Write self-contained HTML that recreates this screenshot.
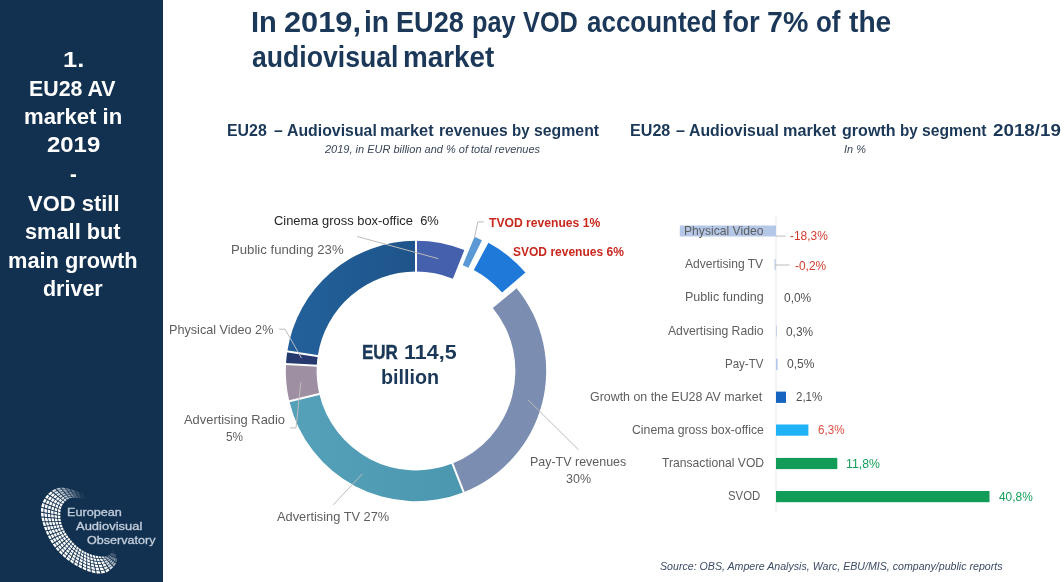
<!DOCTYPE html><html><head><meta charset="utf-8"><title>EU28 AV market in 2019</title><style>
html,body{margin:0;padding:0;background:#fff}
body{width:1064px;height:582px;position:relative;overflow:hidden;font-family:"Liberation Sans",sans-serif}
.sb{position:absolute;left:0;top:0;width:162.5px;height:582px;background:#12304f}
.t{position:absolute;white-space:pre;line-height:1;transform-origin:0 0;filter:blur(0.3px)}
svg{position:absolute;left:0;top:0}
</style></head><body>
<div class="sb"></div>
<svg width="1064" height="582" viewBox="0 0 1064 582">
<defs><linearGradient id="gp" gradientUnits="userSpaceOnUse" x1="286" y1="0" x2="416" y2="0"><stop offset="0" stop-color="#23619c"/><stop offset="1" stop-color="#1e548a"/></linearGradient><linearGradient id="gt" gradientUnits="userSpaceOnUse" x1="290" y1="0" x2="465" y2="0"><stop offset="0" stop-color="#54a1b9"/><stop offset="1" stop-color="#4b97b0"/></linearGradient></defs>
<rect x="775.5" y="215" width="1" height="297" fill="#e4e7ee"/>
<rect x="679.8" y="225.5" width="96.2" height="11" fill="#b4c7e7"/>
<polyline points="776,236.1 785.7,236.1" stroke="#bcbcbc" stroke-width="1" fill="none"/>
<rect x="774.4" y="259" width="1.6" height="11" fill="#c9d3e6"/>
<polyline points="775,265 789.5,265" stroke="#bcbcbc" stroke-width="1" fill="none"/>
<rect x="776" y="325.5" width="1" height="11" fill="#c9d3e6"/>
<rect x="776" y="358.7" width="1.6" height="11.3" fill="#b4c7e7"/>
<rect x="776" y="391.6" width="10" height="11.3" fill="#1464c0"/>
<rect x="776" y="424.5" width="32.4" height="11.2" fill="#1fb2f7"/>
<rect x="776" y="457.9" width="61.3" height="11.2" fill="#119c57"/>
<rect x="776" y="491" width="213.5" height="11.2" fill="#119c57"/>
<path d="M416.00,240.80A130.2,130.2 0 0 1 464.35,250.11L452.91,278.71A99.4,99.4 0 0 0 416.00,271.60Z" fill="#4561ae" />
<path d="M474.54,236.80A130.2,130.2 0 0 1 481.98,240.18L468.39,267.81A99.4,99.4 0 0 0 462.70,265.23Z" fill="#5b99d4" />
<path d="M488.43,242.76A130.2,130.2 0 0 1 525.41,272.50L502.06,292.58A99.4,99.4 0 0 0 473.82,269.88Z" fill="#1f79d9" />
<path d="M516.61,288.36A130.2,130.2 0 0 1 463.72,492.14L452.43,463.48A99.4,99.4 0 0 0 492.81,307.91Z" fill="#7c8db2" />
<path d="M463.72,492.14A130.2,130.2 0 0 1 289.34,401.17L319.31,394.04A99.4,99.4 0 0 0 452.43,463.48Z" fill="url(#gt)" />
<path d="M289.34,401.17A130.2,130.2 0 0 1 285.99,363.96L316.75,365.62A99.4,99.4 0 0 0 319.31,394.04Z" fill="#9e8fa3" />
<path d="M285.99,363.96A130.2,130.2 0 0 1 287.28,351.42L317.73,356.05A99.4,99.4 0 0 0 316.75,365.62Z" fill="#25396f" />
<path d="M287.28,351.42A130.2,130.2 0 0 1 416.00,240.80L416.00,271.60A99.4,99.4 0 0 0 317.73,356.05Z" fill="url(#gp)" />
<line x1="416.00" y1="272.60" x2="416.00" y2="239.80" stroke="#fff" stroke-width="2"/>
<line x1="452.06" y1="462.55" x2="464.08" y2="493.07" stroke="#fff" stroke-width="2"/>
<line x1="320.28" y1="393.80" x2="288.37" y2="401.41" stroke="#fff" stroke-width="2"/>
<line x1="317.74" y1="365.68" x2="284.99" y2="363.90" stroke="#fff" stroke-width="2"/>
<line x1="318.72" y1="356.20" x2="286.29" y2="351.27" stroke="#fff" stroke-width="2"/>
<polyline points="357.2,236.5 438.4,258.7" fill="none" stroke="#bcbcbc" stroke-width="1"/>
<polyline points="483.7,221.9 477.8,221.9 474.4,238" fill="none" stroke="#bcbcbc" stroke-width="1"/>
<polyline points="279.1,329.2 285.1,329.2 301.5,358.1" fill="none" stroke="#bcbcbc" stroke-width="1"/>
<polyline points="289.9,427.9 296,427.9 300.8,382.2" fill="none" stroke="#bcbcbc" stroke-width="1"/>
<polyline points="333.3,504.8 362.4,473.8" fill="none" stroke="#bcbcbc" stroke-width="1"/>
<polyline points="578.4,449.7 527.8,399.6" fill="none" stroke="#bcbcbc" stroke-width="1"/>
<path d="M83.4,493.5L79.9,492.3L80.1,493.1L83.5,494.2ZM83.5,494.4L80.2,493.4L80.5,494.3L83.6,495.2ZM83.6,495.4L80.5,494.5L80.8,495.4L83.7,496.2ZM83.7,496.4L80.8,495.7L81.1,496.5L83.8,497.2ZM83.8,497.4L81.2,496.8L81.4,497.6L83.9,498.2ZM83.9,498.4L81.5,497.9L81.7,498.8L83.9,499.1Z" fill="#ffffff" fill-opacity="0.07"/>
<path d="M114.7,552.9L113.2,549.6L113.0,549.7L114.3,552.9ZM114.1,552.8L113.0,549.7L112.9,549.8L113.7,552.8ZM113.5,552.7L112.8,549.8L112.7,549.9L113.1,552.7ZM112.9,552.6L112.6,549.9L112.5,550.0L112.5,552.6ZM112.3,552.5L112.5,550.1L112.3,550.2L111.9,552.5ZM111.7,552.4L112.3,550.2L112.1,550.3L111.3,552.4Z" fill="#ffffff" fill-opacity="0.09"/>
<path d="M78.8,491.9L75.3,490.7L75.7,491.7L79.1,492.8ZM79.2,493.1L75.9,492.0L76.3,493.0L79.5,494.0ZM79.6,494.2L76.5,493.3L76.9,494.3L79.9,495.1ZM79.9,495.4L77.1,494.6L77.6,495.6L80.2,496.3ZM80.3,496.6L77.7,495.9L78.2,496.9L80.6,497.5ZM80.7,497.8L78.3,497.2L78.8,498.2L81.0,498.6Z" fill="#ffffff" fill-opacity="0.2"/>
<path d="M116.4,557.5L115.2,554.0L114.6,553.9L115.6,557.1ZM115.3,557.0L114.5,553.8L113.9,553.7L114.4,556.7ZM114.1,556.6L113.7,553.7L113.2,553.5L113.2,556.2ZM113.0,556.1L113.0,553.5L112.4,553.3L112.1,555.8ZM111.8,555.7L112.3,553.3L111.7,553.2L110.9,555.3ZM110.6,555.2L111.5,553.1L111.0,553.0L109.8,554.9Z" fill="#ffffff" fill-opacity="0.28"/>
<path d="M74.2,490.3L70.6,489.3L71.3,490.4L74.7,491.4ZM74.8,491.7L71.5,490.8L72.2,491.9L75.4,492.7ZM75.5,493.0L72.4,492.2L73.1,493.4L76.0,494.1ZM76.2,494.4L73.3,493.7L74.0,494.9L76.7,495.4ZM76.9,495.8L74.2,495.2L74.9,496.4L77.4,496.8ZM77.5,497.1L75.1,496.7L75.8,497.8L78.1,498.1Z" fill="#ffffff" fill-opacity="0.33"/>
<path d="M69.5,488.9L65.9,488.1L66.8,489.4L70.2,490.1ZM70.4,490.5L67.1,489.8L68.0,491.0L71.2,491.6ZM71.4,492.0L68.3,491.4L69.2,492.7L72.2,493.2ZM72.4,493.5L69.5,493.1L70.4,494.4L73.1,494.7ZM73.4,495.1L70.7,494.8L71.6,496.1L74.1,496.2ZM74.4,496.6L71.9,496.5L72.8,497.7L75.1,497.8Z" fill="#ffffff" fill-opacity="0.46"/>
<path d="M116.5,562.3L116.7,558.6L115.7,558.2L115.3,561.5ZM114.9,561.2L115.4,558.1L114.4,557.6L113.7,560.4ZM113.3,560.2L114.1,557.5L113.1,557.1L112.1,559.4ZM111.7,559.2L112.8,556.9L111.8,556.5L110.5,558.4ZM110.1,558.1L111.5,556.4L110.5,555.9L108.9,557.3ZM108.5,557.1L110.2,555.8L109.3,555.3L107.3,556.3Z" fill="#ffffff" fill-opacity="0.47"/>
<path d="M64.7,487.9L61.0,487.6L62.2,489.0L65.7,489.2ZM66.0,489.6L62.5,489.5L63.7,490.9L67.0,490.9ZM67.3,491.3L64.1,491.3L65.3,492.7L68.3,492.6ZM68.6,493.0L65.6,493.2L66.8,494.6L69.5,494.3ZM69.9,494.7L67.2,495.0L68.4,496.4L70.8,496.1ZM71.1,496.5L68.7,496.9L69.9,498.3L72.1,497.8Z" fill="#ffffff" fill-opacity="0.59"/>
<path d="M113.9,566.4L116.0,563.3L114.7,562.4L112.6,565.1ZM112.2,564.7L114.3,562.1L113.1,561.2L111.0,563.4ZM110.6,563.0L112.7,560.9L111.5,560.0L109.3,561.7ZM108.9,561.3L111.1,559.7L109.8,558.8L107.7,560.0ZM107.3,559.6L109.4,558.5L108.2,557.6L106.0,558.3ZM105.6,557.9L107.8,557.3L106.6,556.4L104.3,556.6Z" fill="#ffffff" fill-opacity="0.66"/>
<path d="M59.8,487.7L56.2,488.5L57.7,490.0L61.1,489.2ZM61.5,489.6L58.1,490.5L59.6,491.9L62.7,491.0ZM63.1,491.5L60.0,492.4L61.5,493.9L64.3,492.9ZM64.7,493.4L62.0,494.3L63.4,495.8L66.0,494.8ZM66.4,495.2L63.9,496.3L65.4,497.7L67.6,496.7ZM68.0,497.1L65.8,498.2L67.3,499.6L69.3,498.5Z" fill="#ffffff" fill-opacity="0.72"/>
<path d="M110.4,569.8L113.1,567.3L111.9,565.8L109.2,568.0ZM108.8,567.5L111.5,565.4L110.2,564.0L107.7,565.7ZM107.3,565.2L109.8,563.5L108.6,562.1L106.1,563.4ZM105.7,562.9L108.2,561.7L106.9,560.3L104.5,561.1ZM104.1,560.6L106.5,559.8L105.3,558.4L103.0,558.8ZM102.6,558.2L104.9,558.0L103.6,556.6L101.4,556.5Z" fill="#ffffff" fill-opacity="0.85"/>
<path d="M55.1,489.0L51.8,490.7L53.6,492.2L56.6,490.4ZM57.1,490.9L54.1,492.6L55.9,494.0L58.6,492.4ZM59.1,492.8L56.4,494.5L58.1,495.9L60.7,494.3ZM61.1,494.7L58.7,496.4L60.4,497.8L62.7,496.2ZM63.2,496.7L61.0,498.2L62.7,499.7L64.7,498.1ZM65.2,498.6L63.2,500.1L65.0,501.5L66.7,500.1Z" fill="#ffffff" fill-opacity="0.86"/>
<path d="M50.9,491.4L48.1,493.9L50.1,495.2L52.7,492.8ZM53.2,493.3L50.7,495.6L52.7,496.9L55.0,494.7ZM55.6,495.1L53.3,497.3L55.3,498.6L57.4,496.5ZM58.0,496.9L55.9,499.1L57.9,500.4L59.8,498.4ZM60.3,498.8L58.5,500.8L60.5,502.1L62.1,500.2ZM62.7,500.6L61.1,502.5L63.1,503.8L64.5,502.0Z" fill="#ffffff" fill-opacity="0.99"/>
<path d="M47.3,494.8L45.1,497.7L47.2,498.9L49.3,496.0ZM50.0,496.4L47.9,499.2L50.1,500.4L52.0,497.7ZM52.7,498.1L50.8,500.7L53.0,501.9L54.7,499.4ZM55.3,499.8L53.7,502.2L55.9,503.4L57.4,501.1ZM58.0,501.5L56.6,503.8L58.8,504.9L60.0,502.7ZM60.7,503.1L59.5,505.3L61.6,506.4L62.7,504.4ZM44.4,498.7L42.7,502.0L45.1,503.0L46.7,499.8ZM47.4,500.2L45.9,503.3L48.3,504.2L49.6,501.3ZM50.3,501.6L49.0,504.5L51.4,505.5L52.6,502.7ZM53.3,503.1L52.1,505.8L54.5,506.8L55.5,504.2ZM56.2,504.5L55.3,507.1L57.6,508.0L58.4,505.6ZM59.2,506.0L58.4,508.3L60.8,509.3L61.4,507.1ZM42.3,503.1L41.3,506.7L43.8,507.4L44.7,504.0ZM45.5,504.3L44.6,507.6L47.1,508.4L47.9,505.2ZM48.7,505.5L47.9,508.6L50.4,509.3L51.1,506.4ZM51.9,506.7L51.2,509.6L53.7,510.3L54.3,507.6ZM55.0,507.9L54.5,510.5L57.0,511.3L57.5,508.8ZM58.2,509.1L57.8,511.5L60.4,512.2L60.6,510.0ZM41.1,507.8L40.9,511.5L43.4,512.0L43.6,508.5ZM44.4,508.7L44.3,512.2L46.8,512.7L47.0,509.4ZM47.8,509.6L47.6,512.8L50.2,513.3L50.3,510.3ZM51.1,510.5L51.0,513.5L53.5,513.9L53.6,511.2ZM54.4,511.4L54.3,514.1L56.9,514.6L57.0,512.1ZM57.8,512.3L57.7,514.7L60.3,515.2L60.3,512.9ZM40.9,512.7L41.3,516.4L43.9,516.6L43.5,513.1ZM44.3,513.3L44.7,516.7L47.2,517.0L46.8,513.7ZM47.7,513.8L48.0,517.0L50.5,517.3L50.2,514.3ZM51.0,514.4L51.3,517.3L53.8,517.6L53.6,514.8ZM54.4,514.9L54.6,517.6L57.1,517.9L56.9,515.4ZM57.7,515.5L57.9,518.0L60.4,518.2L60.3,515.9ZM41.5,517.6L42.3,521.2L44.8,521.2L44.0,517.7ZM44.8,517.8L45.5,521.2L48.0,521.2L47.3,518.0ZM48.1,518.0L48.8,521.2L51.2,521.2L50.6,518.2ZM51.4,518.3L52.0,521.2L54.4,521.2L53.9,518.4ZM54.7,518.5L55.2,521.2L57.6,521.2L57.2,518.7ZM58.0,518.7L58.4,521.1L60.9,521.1L60.5,518.9ZM42.6,522.3L43.7,525.9L46.0,525.7L45.0,522.3ZM45.8,522.3L46.8,525.6L49.1,525.3L48.2,522.2ZM49.0,522.2L49.9,525.3L52.2,525.0L51.4,522.1ZM52.2,522.1L53.0,524.9L55.3,524.7L54.6,522.0ZM55.4,522.0L56.1,524.6L58.4,524.4L57.8,521.9ZM58.6,521.9L59.2,524.3L61.6,524.0L61.0,521.8ZM44.0,527.0L45.4,530.5L47.6,530.0L46.4,526.7ZM47.1,526.6L48.3,529.9L50.6,529.4L49.5,526.3ZM50.2,526.2L51.3,529.2L53.6,528.8L52.5,525.9ZM53.3,525.8L54.3,528.6L56.6,528.1L55.6,525.5ZM56.3,525.4L57.3,528.0L59.6,527.5L58.7,525.1ZM59.4,525.0L60.3,527.3L62.5,526.9L61.8,524.7ZM45.8,531.6L47.3,535.0L49.5,534.3L48.0,531.1ZM48.8,530.9L50.2,534.0L52.4,533.3L51.0,530.3ZM51.7,530.2L53.0,533.1L55.2,532.4L54.0,529.6ZM54.7,529.5L55.9,532.2L58.1,531.4L56.9,528.9ZM57.6,528.8L58.8,531.2L60.9,530.5L59.9,528.2ZM60.6,528.1L61.6,530.3L63.8,529.6L62.8,527.5ZM47.9,536.0L49.6,539.3L51.7,538.4L50.0,535.3ZM50.7,535.0L52.3,538.1L54.4,537.1L52.8,534.3ZM53.5,534.0L55.0,536.8L57.1,535.9L55.6,533.2ZM56.3,533.0L57.7,535.6L59.8,534.7L58.5,532.2ZM59.1,532.0L60.4,534.4L62.5,533.4L61.3,531.2ZM62.0,531.0L63.1,533.1L65.2,532.2L64.1,530.2ZM50.2,540.3L52.1,543.5L54.1,542.3L52.2,539.3ZM52.9,539.0L54.7,542.0L56.6,540.8L54.9,538.0ZM55.5,537.7L57.2,540.5L59.2,539.3L57.6,536.7ZM58.2,536.4L59.8,538.9L61.7,537.8L60.2,535.4ZM60.9,535.1L62.3,537.4L64.2,536.2L62.9,534.1ZM63.5,533.8L64.8,535.9L66.8,534.7L65.6,532.8ZM52.8,544.5L55.0,547.5L56.8,546.1L54.7,543.3ZM55.3,542.9L57.3,545.7L59.1,544.3L57.2,541.7ZM57.8,541.3L59.7,543.9L61.4,542.6L59.7,540.1ZM60.3,539.7L62.0,542.1L63.8,540.8L62.2,538.5ZM62.8,538.1L64.4,540.3L66.1,539.0L64.7,536.9ZM65.3,536.5L66.7,538.5L68.5,537.2L67.2,535.3ZM55.7,548.4L58.1,551.3L59.7,549.7L57.4,547.0ZM58.0,546.6L60.2,549.2L61.8,547.7L59.7,545.2ZM60.3,544.7L62.3,547.2L63.9,545.7L62.0,543.3ZM62.6,542.9L64.4,545.2L66.1,543.6L64.3,541.5ZM64.9,541.0L66.6,543.1L68.2,541.6L66.6,539.6ZM67.2,539.2L68.7,541.1L70.3,539.5L68.9,537.8ZM58.9,552.1L61.5,554.8L62.9,553.1L60.5,550.6ZM60.9,550.0L63.4,552.5L64.8,550.8L62.5,548.5ZM63.0,548.0L65.2,550.3L66.7,548.6L64.6,546.4ZM65.1,545.9L67.1,548.0L68.5,546.3L66.6,544.3ZM67.1,543.8L69.0,545.8L70.4,544.1L68.7,542.2ZM69.2,541.7L70.8,543.5L72.2,541.8L70.8,540.1ZM62.4,555.6L65.2,558.0L66.4,556.1L63.7,553.8ZM64.2,553.3L66.8,555.5L68.0,553.7L65.5,551.5ZM66.0,551.0L68.4,553.1L69.6,551.3L67.3,549.2ZM67.8,548.7L69.9,550.7L71.1,548.8L69.1,546.9ZM69.6,546.4L71.5,548.3L72.7,546.4L70.9,544.6ZM71.4,544.1L73.1,545.8L74.3,544.0L72.7,542.3ZM66.1,558.7L69.1,560.9L70.1,559.0L67.3,556.8ZM67.6,556.2L70.4,558.4L71.4,556.4L68.8,554.4ZM69.1,553.8L71.7,555.8L72.6,553.8L70.3,551.9ZM70.6,551.3L72.9,553.2L73.9,551.2L71.8,549.4ZM72.2,548.8L74.2,550.6L75.2,548.6L73.3,546.9ZM73.7,546.4L75.5,548.0L76.5,546.0L74.8,544.5ZM70.1,561.6L73.1,563.7L73.9,561.6L71.0,559.6ZM71.3,559.0L74.1,561.0L74.9,558.9L72.2,557.0ZM72.5,556.4L75.1,558.2L75.9,556.1L73.4,554.4ZM73.7,553.7L76.1,555.5L76.8,553.4L74.6,551.7ZM74.9,551.1L77.1,552.7L77.8,550.6L75.8,549.1ZM76.1,548.5L78.1,550.0L78.8,547.9L77.0,546.5ZM74.1,564.3L77.3,566.2L77.8,564.0L74.8,562.2ZM75.0,561.6L78.0,563.4L78.5,561.2L75.7,559.4ZM76.0,558.8L78.7,560.5L79.2,558.3L76.6,556.7ZM76.9,556.0L79.4,557.6L79.9,555.4L77.6,553.9ZM77.8,553.2L80.0,554.7L80.6,552.5L78.5,551.1ZM78.7,550.4L80.7,551.8L81.2,549.6L79.4,548.3ZM78.4,566.8L81.7,568.5L81.9,566.2L78.8,564.6ZM79.0,563.9L82.0,565.5L82.3,563.2L79.4,561.7ZM79.6,561.0L82.4,562.5L82.7,560.2L80.0,558.8ZM80.2,558.1L82.8,559.5L83.0,557.2L80.6,555.8ZM80.8,555.1L83.1,556.5L83.4,554.2L81.2,552.9ZM81.4,552.2L83.5,553.5L83.8,551.2L81.8,550.0ZM82.7,569.0L86.2,570.5L86.2,568.1L82.9,566.7ZM83.0,566.0L86.2,567.4L86.2,565.0L83.2,563.7ZM83.3,562.9L86.2,564.3L86.3,561.9L83.5,560.6ZM83.6,559.9L86.3,561.2L86.3,558.8L83.8,557.6ZM83.9,556.9L86.3,558.1L86.4,555.7L84.1,554.6ZM84.2,553.8L86.4,554.9L86.4,552.6L84.4,551.5ZM87.2,570.9L90.8,572.1L90.6,569.7L87.2,568.5ZM87.2,567.8L90.5,568.9L90.3,566.5L87.2,565.4ZM87.2,564.6L90.2,565.7L90.0,563.3L87.1,562.3ZM87.1,561.5L89.9,562.6L89.7,560.1L87.1,559.1ZM87.1,558.4L89.6,559.4L89.4,557.0L87.1,556.0ZM87.1,555.3L89.3,556.2L89.1,553.8L87.0,552.9ZM91.9,572.4L95.5,573.2L95.1,570.8L91.6,570.0ZM91.5,569.2L94.9,570.0L94.4,567.6L91.3,566.8ZM91.2,566.0L94.3,566.8L93.8,564.4L90.9,563.6ZM90.8,562.8L93.7,563.6L93.2,561.2L90.5,560.4ZM90.4,559.7L93.0,560.4L92.6,558.0L90.2,557.3ZM90.1,556.5L92.4,557.2L91.9,554.8L89.8,554.1ZM96.7,573.4L100.4,573.6L99.7,571.2L96.2,571.0ZM96.0,570.2L99.4,570.5L98.7,568.1L95.5,567.8ZM95.3,567.0L98.5,567.4L97.7,565.0L94.7,564.6ZM94.6,563.8L97.5,564.2L96.8,561.8L94.0,561.4ZM93.9,560.6L96.5,561.1L95.8,558.7L93.3,558.2ZM93.2,557.4L95.6,557.9L94.8,555.6L92.6,555.0ZM101.6,573.6L105.2,572.8L104.2,570.6L100.8,571.2ZM100.5,570.5L103.9,569.9L102.9,567.7L99.7,568.1ZM99.5,567.4L102.6,567.0L101.6,564.8L98.7,565.0ZM98.4,564.3L101.3,564.1L100.3,561.9L97.6,561.9ZM97.4,561.2L100.0,561.2L99.0,559.0L96.6,558.8ZM96.3,558.1L98.7,558.3L97.7,556.1L95.5,555.7ZM106.3,572.4L109.5,570.5L108.3,568.6L105.3,570.2ZM104.9,569.6L107.9,568.1L106.8,566.2L103.9,567.4ZM103.6,566.8L106.4,565.6L105.3,563.8L102.5,564.6ZM102.2,564.0L104.9,563.2L103.7,561.3L101.2,561.8ZM100.8,561.1L103.4,560.7L102.2,558.9L99.8,559.0ZM99.5,558.3L101.8,558.3L100.7,556.4L98.4,556.2Z" fill="#ffffff" fill-opacity="1.0"/>
</svg>
<div class="t" style="left:250.78px;top:7.20px;font-size:30px;font-weight:700;font-style:normal;color:#1b3858;transform:scaleX(0.9685)">In</div>
<div class="t" style="left:283.74px;top:7.20px;font-size:30px;font-weight:700;font-style:normal;color:#1b3858;transform:scaleX(1.0254)">2019,</div>
<div class="t" style="left:363.83px;top:7.20px;font-size:30px;font-weight:700;font-style:normal;color:#1b3858;transform:scaleX(0.9428)">in</div>
<div class="t" style="left:395.50px;top:7.20px;font-size:30px;font-weight:700;font-style:normal;color:#1b3858;transform:scaleX(0.9058)">EU28</div>
<div class="t" style="left:471.72px;top:7.20px;font-size:30px;font-weight:700;font-style:normal;color:#1b3858;transform:scaleX(0.8438)">pay</div>
<div class="t" style="left:522.80px;top:7.20px;font-size:30px;font-weight:700;font-style:normal;color:#1b3858;transform:scaleX(0.8441)">VOD</div>
<div class="t" style="left:586.79px;top:7.20px;font-size:30px;font-weight:700;font-style:normal;color:#1b3858;transform:scaleX(0.8656)">accounted</div>
<div class="t" style="left:722.57px;top:7.20px;font-size:30px;font-weight:700;font-style:normal;color:#1b3858;transform:scaleX(0.9157)">for</div>
<div class="t" style="left:766.81px;top:7.20px;font-size:30px;font-weight:700;font-style:normal;color:#1b3858;transform:scaleX(0.9524)">7%</div>
<div class="t" style="left:816.49px;top:7.20px;font-size:30px;font-weight:700;font-style:normal;color:#1b3858;transform:scaleX(0.8628)">of</div>
<div class="t" style="left:849.20px;top:7.20px;font-size:30px;font-weight:700;font-style:normal;color:#1b3858;transform:scaleX(0.9401)">the</div>
<div class="t" style="left:251.68px;top:41.50px;font-size:30px;font-weight:700;font-style:normal;color:#1b3858;transform:scaleX(0.8876)">audiovisual</div>
<div class="t" style="left:402.86px;top:41.50px;font-size:30px;font-weight:700;font-style:normal;color:#1b3858;transform:scaleX(0.9287)">market</div>
<div class="t" style="left:63.31px;top:48.80px;font-size:22px;font-weight:700;font-style:normal;color:#ffffff;transform:scaleX(1.1549)">1.</div>
<div class="t" style="left:28.67px;top:77.70px;font-size:22px;font-weight:700;font-style:normal;color:#ffffff;transform:scaleX(0.9695)">EU28 AV</div>
<div class="t" style="left:23.82px;top:106.10px;font-size:22px;font-weight:700;font-style:normal;color:#ffffff;transform:scaleX(1.0044)">market in</div>
<div class="t" style="left:46.65px;top:134.40px;font-size:22px;font-weight:700;font-style:normal;color:#ffffff;transform:scaleX(1.0879)">2019</div>
<div class="t" style="left:70.16px;top:163.30px;font-size:22px;font-weight:700;font-style:normal;color:#ffffff;transform:scaleX(0.9241)">-</div>
<div class="t" style="left:27.80px;top:192.50px;font-size:22px;font-weight:700;font-style:normal;color:#ffffff;transform:scaleX(0.9980)">VOD still</div>
<div class="t" style="left:25.12px;top:220.90px;font-size:22px;font-weight:700;font-style:normal;color:#ffffff;transform:scaleX(0.9898)">small but</div>
<div class="t" style="left:7.94px;top:249.70px;font-size:22px;font-weight:700;font-style:normal;color:#ffffff;transform:scaleX(0.9911)">main growth</div>
<div class="t" style="left:43.13px;top:277.50px;font-size:22px;font-weight:700;font-style:normal;color:#ffffff;transform:scaleX(0.9760)">driver</div>
<div class="t" style="left:227.21px;top:122.40px;font-size:16.5px;font-weight:700;font-style:normal;color:#1b3858;transform:scaleX(0.9640)">EU28</div>
<div class="t" style="left:273.65px;top:122.40px;font-size:16.5px;font-weight:700;font-style:normal;color:#1b3858;transform:scaleX(0.9521)">–</div>
<div class="t" style="left:286.55px;top:122.40px;font-size:16.5px;font-weight:700;font-style:normal;color:#1b3858;transform:scaleX(0.9601)">Audiovisual</div>
<div class="t" style="left:380.08px;top:122.40px;font-size:16.5px;font-weight:700;font-style:normal;color:#1b3858;transform:scaleX(0.9905)">market</div>
<div class="t" style="left:438.92px;top:122.40px;font-size:16.5px;font-weight:700;font-style:normal;color:#1b3858;transform:scaleX(0.9468)">revenues</div>
<div class="t" style="left:511.96px;top:122.40px;font-size:16.5px;font-weight:700;font-style:normal;color:#1b3858;transform:scaleX(0.9111)">by</div>
<div class="t" style="left:534.41px;top:122.40px;font-size:16.5px;font-weight:700;font-style:normal;color:#1b3858;transform:scaleX(0.9590)">segment</div>
<div class="t" style="left:325.40px;top:143.90px;font-size:11px;font-weight:400;font-style:italic;color:#3a4658;transform:scaleX(0.9993)">2019, in EUR billion and % of total revenues</div>
<div class="t" style="left:629.69px;top:122.40px;font-size:16.5px;font-weight:700;font-style:normal;color:#1b3858;transform:scaleX(0.9766)">EU28</div>
<div class="t" style="left:676.35px;top:122.40px;font-size:16.5px;font-weight:700;font-style:normal;color:#1b3858;transform:scaleX(0.9756)">–</div>
<div class="t" style="left:689.15px;top:122.40px;font-size:16.5px;font-weight:700;font-style:normal;color:#1b3858;transform:scaleX(0.9601)">Audiovisual</div>
<div class="t" style="left:782.89px;top:122.40px;font-size:16.5px;font-weight:700;font-style:normal;color:#1b3858;transform:scaleX(0.9829)">market</div>
<div class="t" style="left:841.50px;top:122.40px;font-size:16.5px;font-weight:700;font-style:normal;color:#1b3858;transform:scaleX(0.9744)">growth</div>
<div class="t" style="left:899.85px;top:122.40px;font-size:16.5px;font-weight:700;font-style:normal;color:#1b3858;transform:scaleX(0.9220)">by</div>
<div class="t" style="left:922.21px;top:122.40px;font-size:16.5px;font-weight:700;font-style:normal;color:#1b3858;transform:scaleX(0.9501)">segment</div>
<div class="t" style="left:992.71px;top:122.40px;font-size:16.5px;font-weight:700;font-style:normal;color:#1b3858;transform:scaleX(1.1377)">2018/19</div>
<div class="t" style="left:844.10px;top:144.00px;font-size:11px;font-weight:400;font-style:italic;color:#3a4658;transform:scaleX(0.9915)">In %</div>
<div class="t" style="left:273.99px;top:213.80px;font-size:13px;font-weight:400;font-style:normal;color:#262626;transform:scaleX(0.9930)">Cinema gross box-office  6%</div>
<div class="t" style="left:231.37px;top:243.10px;font-size:13px;font-weight:400;font-style:normal;color:#5e5e5e;transform:scaleX(1.0119)">Public funding 23%</div>
<div class="t" style="left:489.00px;top:216.00px;font-size:13px;font-weight:700;font-style:normal;color:#c8281e;transform:scaleX(0.9325)">TVOD revenues 1%</div>
<div class="t" style="left:513.11px;top:244.80px;font-size:13px;font-weight:700;font-style:normal;color:#c8281e;transform:scaleX(0.9242)">SVOD revenues 6%</div>
<div class="t" style="left:168.61px;top:322.60px;font-size:13px;font-weight:400;font-style:normal;color:#5e5e5e;transform:scaleX(0.9714)">Physical Video 2%</div>
<div class="t" style="left:184.10px;top:413.30px;font-size:13px;font-weight:400;font-style:normal;color:#5e5e5e;transform:scaleX(0.9915)">Advertising Radio</div>
<div class="t" style="left:225.83px;top:430.10px;font-size:13px;font-weight:400;font-style:normal;color:#5e5e5e;transform:scaleX(0.9058)">5%</div>
<div class="t" style="left:277.30px;top:509.50px;font-size:13px;font-weight:400;font-style:normal;color:#5e5e5e;transform:scaleX(0.9844)">Advertising TV 27%</div>
<div class="t" style="left:529.93px;top:455.20px;font-size:13px;font-weight:400;font-style:normal;color:#5e5e5e;transform:scaleX(0.9585)">Pay-TV revenues</div>
<div class="t" style="left:566.01px;top:472.10px;font-size:13px;font-weight:400;font-style:normal;color:#5e5e5e;transform:scaleX(0.9633)">30%</div>
<div class="t" style="left:362.34px;top:340.80px;font-size:21px;font-weight:700;font-style:normal;color:#1b3858;-webkit-text-stroke:0.45px #1b3858;transform:scaleX(0.8094)">EUR</div>
<div class="t" style="left:404.06px;top:340.80px;font-size:21px;font-weight:700;font-style:normal;color:#1b3858;transform:scaleX(1.0231)">114,5</div>
<div class="t" style="left:380.87px;top:365.70px;font-size:21px;font-weight:700;font-style:normal;color:#1b3858;transform:scaleX(0.9396)">billion</div>
<div class="t" style="left:684.02px;top:225.10px;font-size:12.4px;font-weight:400;font-style:normal;color:#5e5e5e;transform:scaleX(0.9797)">Physical Video</div>
<div class="t" style="left:684.60px;top:258.20px;font-size:12.4px;font-weight:400;font-style:normal;color:#5e5e5e;transform:scaleX(0.9726)">Advertising TV</div>
<div class="t" style="left:684.99px;top:291.30px;font-size:12.4px;font-weight:400;font-style:normal;color:#5e5e5e;transform:scaleX(1.0118)">Public funding</div>
<div class="t" style="left:667.60px;top:325.00px;font-size:12.4px;font-weight:400;font-style:normal;color:#5e5e5e;transform:scaleX(0.9825)">Advertising Radio</div>
<div class="t" style="left:724.87px;top:357.90px;font-size:12.4px;font-weight:400;font-style:normal;color:#5e5e5e;transform:scaleX(0.9300)">Pay-TV</div>
<div class="t" style="left:590.40px;top:390.80px;font-size:12.4px;font-weight:400;font-style:normal;color:#5e5e5e;transform:scaleX(1.0011)">Growth on the EU28 AV market</div>
<div class="t" style="left:631.81px;top:424.00px;font-size:12.4px;font-weight:400;font-style:normal;color:#5e5e5e;transform:scaleX(0.9892)">Cinema gross box-office</div>
<div class="t" style="left:661.66px;top:456.70px;font-size:12.4px;font-weight:400;font-style:normal;color:#5e5e5e;transform:scaleX(0.9798)">Transactional VOD</div>
<div class="t" style="left:728.39px;top:489.80px;font-size:12.4px;font-weight:400;font-style:normal;color:#5e5e5e;transform:scaleX(0.9196)">SVOD</div>
<div class="t" style="left:790.27px;top:230.20px;font-size:12.4px;font-weight:400;font-style:normal;color:#d13b2f;transform:scaleX(0.9631)">-18,3%</div>
<div class="t" style="left:794.67px;top:260.10px;font-size:12.4px;font-weight:400;font-style:normal;color:#d13b2f;transform:scaleX(0.9613)">-0,2%</div>
<div class="t" style="left:784.37px;top:291.70px;font-size:12.4px;font-weight:400;font-style:normal;color:#505050;transform:scaleX(0.9639)">0,0%</div>
<div class="t" style="left:786.17px;top:325.50px;font-size:12.4px;font-weight:400;font-style:normal;color:#505050;transform:scaleX(0.9603)">0,3%</div>
<div class="t" style="left:786.66px;top:358.40px;font-size:12.4px;font-weight:400;font-style:normal;color:#505050;transform:scaleX(0.9712)">0,5%</div>
<div class="t" style="left:795.74px;top:391.00px;font-size:12.4px;font-weight:400;font-style:normal;color:#505050;transform:scaleX(0.9289)">2,1%</div>
<div class="t" style="left:817.64px;top:424.20px;font-size:12.4px;font-weight:400;font-style:normal;color:#de5045;transform:scaleX(0.9362)">6,3%</div>
<div class="t" style="left:846.41px;top:457.90px;font-size:12.4px;font-weight:400;font-style:normal;color:#149e5a;transform:scaleX(0.9905)">11,8%</div>
<div class="t" style="left:999.26px;top:490.60px;font-size:12.4px;font-weight:400;font-style:normal;color:#149e5a;transform:scaleX(0.9599)">40,8%</div>
<div class="t" style="left:659.61px;top:561.30px;font-size:11px;font-weight:400;font-style:italic;color:#3c4b66;transform:scaleX(0.9654)">Source: OBS, Ampere Analysis, Warc, EBU/MIS, company/public reports</div>
<div class="t" style="left:67.47px;top:506.60px;font-size:11px;font-weight:400;font-style:normal;color:#c3cfdc;-webkit-text-stroke:0.3px #c3cfdc;transform:scaleX(1.1487)">European</div>
<div class="t" style="left:76.20px;top:521.30px;font-size:11px;font-weight:400;font-style:normal;color:#c3cfdc;-webkit-text-stroke:0.3px #c3cfdc;transform:scaleX(1.1788)">Audiovisual</div>
<div class="t" style="left:87.23px;top:535.10px;font-size:11px;font-weight:400;font-style:normal;color:#c3cfdc;-webkit-text-stroke:0.3px #c3cfdc;transform:scaleX(1.1429)">Observatory</div>
</body></html>
